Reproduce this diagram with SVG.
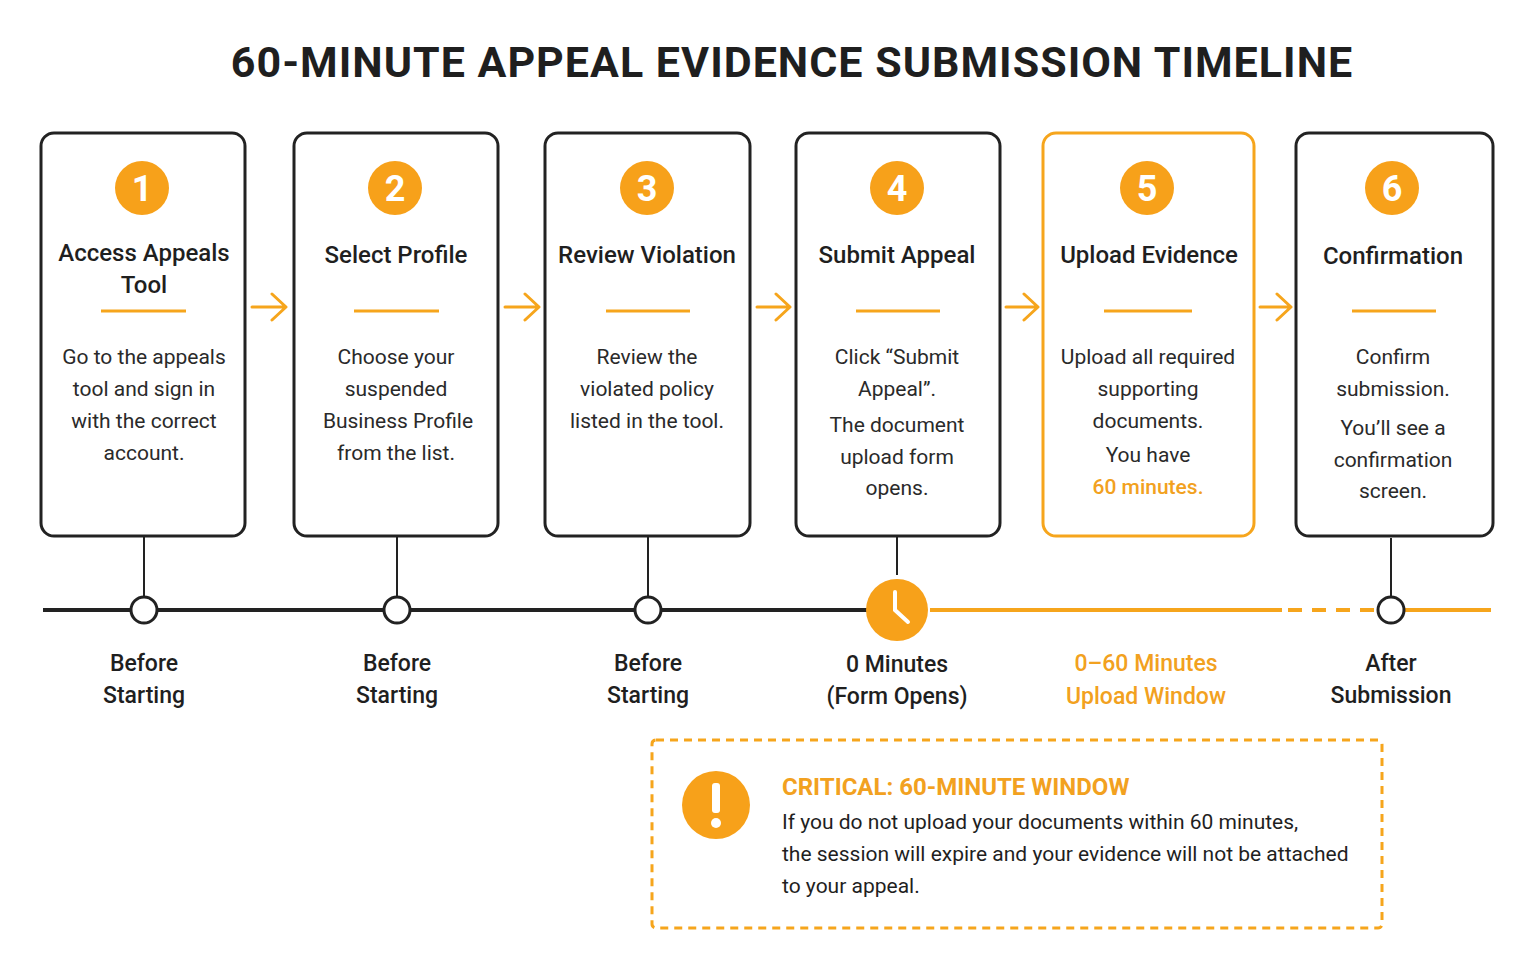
<svg xmlns="http://www.w3.org/2000/svg" width="1535" height="976" viewBox="0 0 1535 976">
<style>
text{font-family:Roboto,"Liberation Sans",sans-serif;fill:#1f1f1f}
.box{fill:#fff;stroke:#222;stroke-width:3}
.obox{fill:#fff;stroke:#f6a51c;stroke-width:3}
.num{fill:#f7a11a}
.numt{fill:#fff;font-size:36px;font-weight:700;text-anchor:middle}
.ttl{font-size:24px;font-weight:500;text-anchor:middle}
.ul{stroke:#f6a51c;stroke-width:3}
.d{font-size:21px;text-anchor:middle;fill:#2a2a2a}
.arr{fill:none;stroke:#f6a51c;stroke-width:3;stroke-linecap:round;stroke-linejoin:round}
.lab{font-size:23px;font-weight:500;text-anchor:middle}
.or{fill:#f2a120}
.dot{fill:#fff;stroke:#222;stroke-width:3}
</style>
<rect width="1535" height="976" fill="#fff"/>
<text x="792" y="77" font-size="43" font-weight="700" text-anchor="middle" letter-spacing="1">60-MINUTE APPEAL EVIDENCE SUBMISSION TIMELINE</text>

<g id="connectors">
<line x1="144" y1="536" x2="144" y2="597" stroke="#222" stroke-width="2"/>
<line x1="397" y1="536" x2="397" y2="597" stroke="#222" stroke-width="2"/>
<line x1="648" y1="536" x2="648" y2="597" stroke="#222" stroke-width="2"/>
<line x1="897" y1="536" x2="897" y2="575" stroke="#222" stroke-width="2"/>
<line x1="1391" y1="538" x2="1391" y2="597" stroke="#222" stroke-width="2"/>
<line x1="43" y1="610" x2="867" y2="610" stroke="#222" stroke-width="4"/>
<line x1="930" y1="610" x2="1282" y2="610" stroke="#f6a51c" stroke-width="4"/>
<line x1="1288" y1="610" x2="1378" y2="610" stroke="#f6a51c" stroke-width="4" stroke-dasharray="14,10"/>
<line x1="1404" y1="610" x2="1491" y2="610" stroke="#f6a51c" stroke-width="4"/>
<path class="arr" d="M252 307H285M272 294L286 307L272 320"/>
<path class="arr" d="M505 307H538M525 294L539 307L525 320"/>
<path class="arr" d="M757 307H789M776 294L790 307L776 320"/>
<path class="arr" d="M1006 307H1037M1024 294L1038 307L1024 320"/>
<path class="arr" d="M1260 307H1290M1277 294L1291 307L1277 320"/>
</g>

<g id="step1">
<rect class="box" x="41" y="133" width="204" height="403" rx="13"/>
<circle class="num" cx="142" cy="188" r="27"/><text class="numt" x="142" y="201">1</text>
<text class="ttl" x="144" y="261">Access Appeals</text><text class="ttl" x="144" y="293">Tool</text>
<line class="ul" x1="101" y1="311" x2="186" y2="311"/>
<text class="d" x="144" y="364">Go to the appeals</text><text class="d" x="144" y="396">tool and sign in</text><text class="d" x="144" y="428">with the correct</text><text class="d" x="144" y="460">account.</text>
</g>
<g id="step2">
<rect class="box" x="294" y="133" width="204" height="403" rx="13"/>
<circle class="num" cx="395" cy="188" r="27"/><text class="numt" x="395" y="201">2</text>
<text class="ttl" x="396" y="263">Select Profile</text>
<line class="ul" x1="354" y1="311" x2="439" y2="311"/>
<text class="d" x="396" y="364">Choose your</text><text class="d" x="396" y="396">suspended</text><text class="d" x="398" y="428">Business Profile</text><text class="d" x="396" y="460">from the list.</text>
</g>
<g id="step3">
<rect class="box" x="545" y="133" width="205" height="403" rx="13"/>
<circle class="num" cx="647" cy="188" r="27"/><text class="numt" x="647" y="201">3</text>
<text class="ttl" x="647" y="263">Review Violation</text>
<line class="ul" x1="606" y1="311" x2="690" y2="311"/>
<text class="d" x="647" y="364">Review the</text><text class="d" x="647" y="396">violated policy</text><text class="d" x="647" y="428">listed in the tool.</text>
</g>
<g id="step4">
<rect class="box" x="796" y="133" width="204" height="403" rx="13"/>
<circle class="num" cx="897" cy="188" r="27"/><text class="numt" x="897" y="201">4</text>
<text class="ttl" x="897" y="263">Submit Appeal</text>
<line class="ul" x1="856" y1="311" x2="940" y2="311"/>
<text class="d" x="897" y="364">Click “Submit</text><text class="d" x="897" y="396">Appeal”.</text><text class="d" x="897" y="432">The document</text><text class="d" x="897" y="464">upload form</text><text class="d" x="897" y="495">opens.</text>
</g>
<g id="step5">
<rect class="obox" x="1043" y="133" width="211" height="403" rx="13"/>
<circle class="num" cx="1147" cy="188" r="27"/><text class="numt" x="1147" y="201">5</text>
<text class="ttl" x="1149" y="263">Upload Evidence</text>
<line class="ul" x1="1104" y1="311" x2="1192" y2="311"/>
<text class="d" x="1148" y="364">Upload all required</text><text class="d" x="1148" y="396">supporting</text><text class="d" x="1148" y="428">documents.</text><text class="d" x="1148" y="462">You have</text><text class="d" x="1148" y="494" style="fill:#f2a120;font-weight:500">60 minutes.</text>
</g>
<g id="step6">
<rect class="box" x="1296" y="133" width="197" height="403" rx="13"/>
<circle class="num" cx="1392" cy="188" r="27"/><text class="numt" x="1392" y="201">6</text>
<text class="ttl" x="1393" y="264">Confirmation</text>
<line class="ul" x1="1352" y1="311" x2="1436" y2="311"/>
<text class="d" x="1393" y="364">Confirm</text><text class="d" x="1393" y="396">submission.</text><text class="d" x="1393" y="435">You’ll see a</text><text class="d" x="1393" y="467">confirmation</text><text class="d" x="1393" y="498">screen.</text>
</g>

<g id="m1"><circle class="dot" cx="144" cy="610" r="13"/><text class="lab" x="144" y="671">Before</text><text class="lab" x="144" y="703">Starting</text></g>
<g id="m2"><circle class="dot" cx="397" cy="610" r="13"/><text class="lab" x="397" y="671">Before</text><text class="lab" x="397" y="703">Starting</text></g>
<g id="m3"><circle class="dot" cx="648" cy="610" r="13"/><text class="lab" x="648" y="671">Before</text><text class="lab" x="648" y="703">Starting</text></g>
<g id="m4"><circle cx="897" cy="610" r="31" fill="#f7a11a"/><path d="M895 592V610L908 622" fill="none" stroke="#fff" stroke-width="4" stroke-linecap="round"/><text class="lab" x="897" y="672">0 Minutes</text><text class="lab" x="897" y="704">(Form Opens)</text></g>
<g id="m5"><text class="lab" x="1146" y="671" style="fill:#f2a120">0–60 Minutes</text><text class="lab" x="1146" y="704" style="fill:#f2a120">Upload Window</text></g>
<g id="m6"><circle class="dot" cx="1391" cy="610" r="13"/><text class="lab" x="1391" y="671">After</text><text class="lab" x="1391" y="703">Submission</text></g>

<g id="critical">
<rect x="652" y="740" width="730" height="188" rx="4" fill="#fff" stroke="#f6a51c" stroke-width="3" stroke-dasharray="8,6"/>
<circle cx="716" cy="805" r="34" fill="#f7a11a"/>
<rect x="712" y="783" width="8" height="30" rx="3" fill="#fff"/><circle cx="716" cy="823" r="5" fill="#fff"/>
<text x="782" y="795" font-size="24" font-weight="700" style="fill:#f2a120">CRITICAL: 60-MINUTE WINDOW</text>
<text x="782" y="829" font-size="21">If you do not upload your documents within 60 minutes,</text>
<text x="782" y="861" font-size="21">the session will expire and your evidence will not be attached</text>
<text x="782" y="893" font-size="21">to your appeal.</text>
</g>
</svg>
